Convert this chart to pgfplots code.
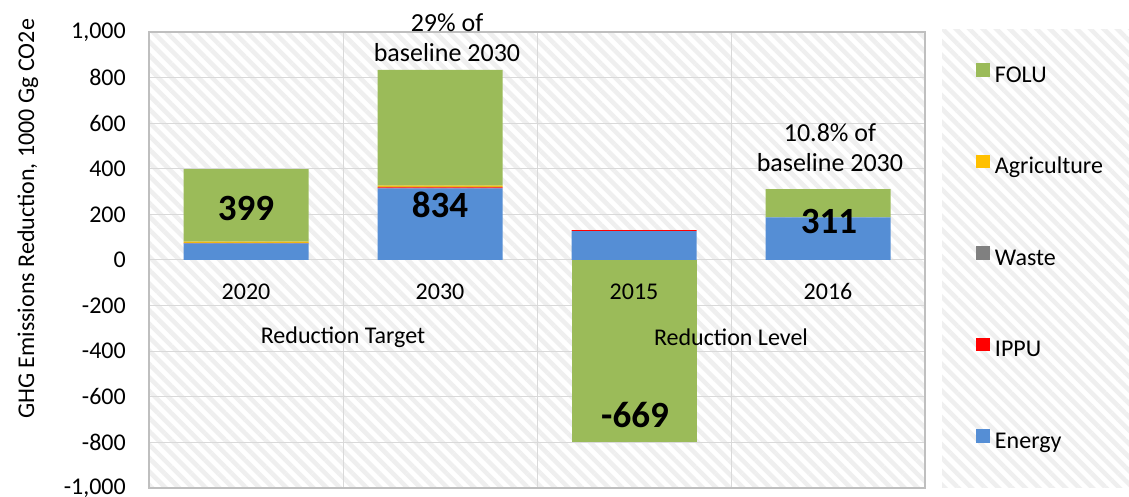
\documentclass[border=0pt]{standalone}
\usepackage{fontspec}
\setmainfont{Carlito}
\usepackage{pgfplots}
\pgfplotsset{compat=1.18}
\usetikzlibrary{patterns.meta}

\definecolor{cFOLU}{HTML}{9BBB59}
\definecolor{cAgri}{HTML}{FFC000}
\definecolor{cWaste}{HTML}{808080}
\definecolor{cIPPU}{HTML}{FF0000}
\definecolor{cEnergy}{HTML}{558ED5}
\definecolor{gridgrey}{HTML}{D9D9D9}
\definecolor{framegrey}{HTML}{BFBFBF}
\definecolor{hatchgrey}{HTML}{EFEFEF}

\tikzset{hatch/.style={pattern={Lines[angle=-45,distance=9.5pt,line width=4.5pt]}, pattern color=hatchgrey}}

\newcommand{\lbl}{\fontsize{24}{29}\selectfont}
\newcommand{\bignum}{\bfseries\fontsize{37}{44}\selectfont}
\newcommand{\ann}{\fontsize{26}{30}\selectfont}

\pgfplotsset{
  ghgbase/.style={
    at={(149pt,9pt)}, anchor=south west,
    width=776pt, height=456pt, scale only axis,
    xmin=-0.5, xmax=3.5, ymin=-1000, ymax=1000,
    clip=false,
  },
}

\begin{document}
\begin{tikzpicture}[x=1pt,y=1pt]
\fill[white] (0,0) rectangle (1129,497);
\fill[hatch] (942,9) rectangle (1129,467);

\begin{axis}[
  ghgbase,
  ybar stacked, bar width=125pt,
  axis background/.style={hatch},
  xtick={-0.5,0.5,1.5,2.5,3.5}, xticklabels=\empty,
  ytick={-1000,-800,-600,-400,-200,0,200,400,600,800,1000},
  yticklabels={{-1,000},{-800},{-600},{-400},{-200},{0},{200},{400},{600},{800},{1,000}},
  yticklabel style={font=\lbl, inner sep=0pt, xshift=-23pt},
  major tick length=0pt,
  xmajorgrids, ymajorgrids,
  grid style={draw=gridgrey, line width=1pt},
  axis line style={draw=framegrey, line width=1.3pt},
  ylabel={GHG Emissions Reduction, 1000 Gg CO2e},
  ylabel style={font=\lbl, at={(axis description cs:-0.156,0.59)}, anchor=center},
  every axis plot/.append style={draw=none},
  reverse legend,
  legend image code/.code={\fill[#1] (0pt,0pt) rectangle (14pt,13.5pt); \path (19pt,0pt);},
  legend cell align=left,
  legend style={draw=none, fill=none, inner sep=0pt, outer sep=0pt,
    at={(1.0657,0.932)}, anchor=north west, row sep=67.5pt, font=\lbl,
    nodes={inner sep=0pt, text height=16pt, text depth=5pt}},
]
% Energy, IPPU, Waste, Agriculture, FOLU (positive parts)
\addplot[fill=cEnergy] coordinates {(0,73) (1,314) (2,127) (3,187)};
\addlegendentry{Energy}
\addplot[fill=cIPPU] coordinates {(0,1) (1,4) (2,4) (3,0)};
\addlegendentry{IPPU}
\addplot[fill=cWaste] coordinates {(0,1) (1,3) (2,0) (3,0)};
\addlegendentry{Waste}
\addplot[fill=cAgri] coordinates {(0,6) (1,5) (2,0) (3,0)};
\addlegendentry{Agriculture}
\addplot[fill=cFOLU] coordinates {(0,318) (1,508) (2,0) (3,124)};
\addlegendentry{FOLU}
\end{axis}

\begin{axis}[ghgbase, hide axis, ybar, bar width=125pt, bar shift=0pt]
% negative FOLU, stacked from zero
\addplot[fill=cFOLU, draw=none] coordinates {(2,-800)};
\node[font=\lbl] at (axis cs:0,-140) {2020};
\node[font=\lbl] at (axis cs:1,-140) {2030};
\node[font=\lbl] at (axis cs:2,-140) {2015};
\node[font=\lbl] at (axis cs:3,-140) {2016};
\node[font=\lbl] at (axis cs:0.5,-338) {Reduction Target};
\node[font=\lbl] at (axis cs:2.5,-338) {Reduction Level};
\node[font=\bignum] at (axis cs:0,228) {399};
\node[font=\bignum] at (axis cs:1,241) {834};
\node[font=\bignum] at (axis cs:2.005,-680) {-669};
\node[font=\bignum] at (axis cs:3.005,167) {311};
\node[font=\ann, align=center] at (axis cs:1.036,974) {29\% of\\baseline 2030};
\node[font=\ann, align=center] at (axis cs:3.01,491) {10.8\% of\\baseline 2030};
\end{axis}

\pgfresetboundingbox
\path (0,0) rectangle (1129,497);
\end{tikzpicture}
\end{document}
